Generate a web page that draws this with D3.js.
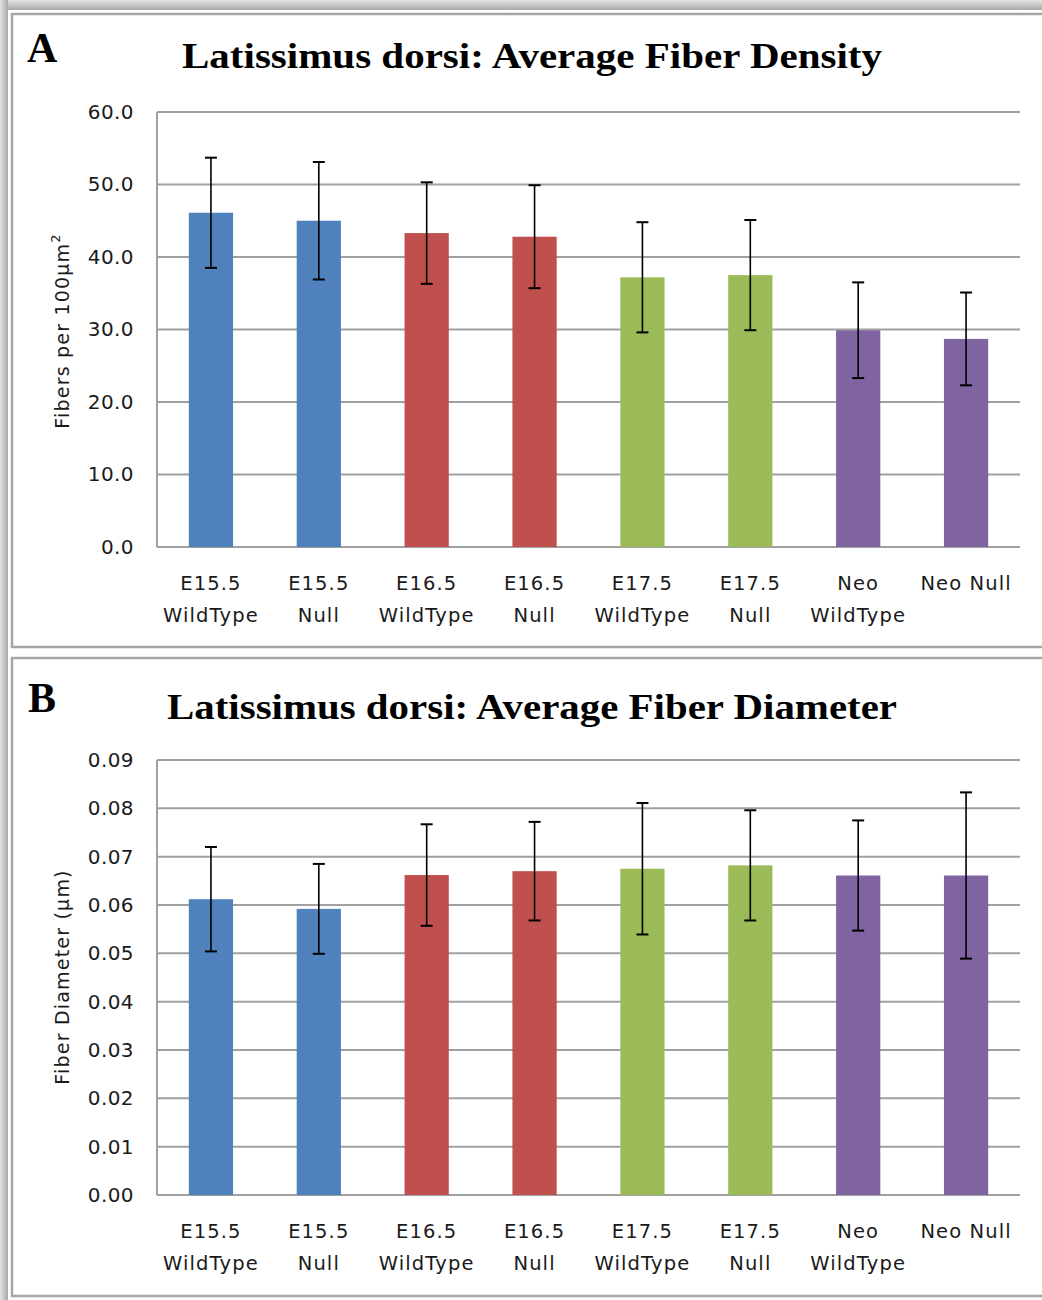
<html>
<head>
<script src="https://d3js.org/d3.v7.min.js"></script>
<style>
  body { margin: 0; background: #fff; }
</style>
</head>
<body>
<svg width="1042" height="1300"></svg>
<script>
// data
var categories = [["E15.5", "WildType"], ["E15.5", "Null"], ["E16.5", "WildType"], ["E16.5", "Null"],
                  ["E17.5", "WildType"], ["E17.5", "Null"], ["Neo", "WildType"], ["Neo Null"]];
var densityMean = [46.1, 45.0, 43.3, 42.8, 37.2, 37.5, 29.9, 28.7];
var densityErr  = [7.6, 8.1, 7.0, 7.1, 7.6, 7.6, 6.6, 6.4];
var diameterMean = [0.0612, 0.0592, 0.0662, 0.0670, 0.0675, 0.0682, 0.0661, 0.0661];
var diameterErr  = [0.0108, 0.0093, 0.0105, 0.0102, 0.0136, 0.0114, 0.0114, 0.0172];
var densityTicks = [0, 10, 20, 30, 40, 50, 60];
var diameterTicks = [0, 0.01, 0.02, 0.03, 0.04, 0.05, 0.06, 0.07, 0.08, 0.09];
var barColors = ["#4F81BD", "#4F81BD", "#C0504D", "#C0504D", "#9BBB59", "#9BBB59", "#8064A2", "#8064A2"];

var svg = d3.select("svg");

// gray frame around the figure
var defs = svg.append("defs");
var gTop = defs.append("linearGradient").attr("id", "gtop").attr("x1", 0).attr("y1", 0).attr("x2", 0).attr("y2", 1);
gTop.append("stop").attr("offset", "0%").attr("stop-color", "#e4e4e4");
gTop.append("stop").attr("offset", "100%").attr("stop-color", "#a9a9a9");
var gLeft = defs.append("linearGradient").attr("id", "gleft").attr("x1", 0).attr("y1", 0).attr("x2", 1).attr("y2", 0);
gLeft.append("stop").attr("offset", "0%").attr("stop-color", "#e4e4e4");
gLeft.append("stop").attr("offset", "100%").attr("stop-color", "#a9a9a9");
svg.append("rect").attr("x", 0).attr("y", 0).attr("width", 1042).attr("height", 10).attr("fill", "url(#gtop)");
svg.append("rect").attr("x", 0).attr("y", 0).attr("width", 8).attr("height", 1300).attr("fill", "url(#gleft)");

function panel(opt) {
  svg.append("rect")
    .attr("x", opt.box[0]).attr("y", opt.box[1])
    .attr("width", opt.box[2]).attr("height", opt.box[3])
    .attr("fill", "#fff").attr("stroke", "#a6a6a6").attr("stroke-width", 2.5);

  svg.append("text")
    .attr("x", opt.letterPos[0]).attr("y", opt.letterPos[1])
    .attr("font-family", "Liberation Serif, DejaVu Serif, serif")
    .attr("font-weight", "bold").attr("font-size", 42)
    .text(opt.letter);

  svg.append("text")
    .attr("x", opt.titlePos[0]).attr("y", opt.titlePos[1])
    .attr("font-family", "Liberation Serif, DejaVu Serif, serif")
    .attr("font-weight", "bold").attr("font-size", 36)
    .attr("textLength", opt.titleLen).attr("lengthAdjust", "spacingAndGlyphs")
    .text(opt.title);

  var m = opt.plot; // left, top, right, bottom
  var x = d3.scaleBand().domain(d3.range(categories.length)).range([m[0], m[2]]).paddingInner(0.59).paddingOuter(0.295);
  var y = d3.scaleLinear().domain([0, d3.max(opt.ticks)]).range([m[3], m[1]]);

  var g = svg.append("g");

  // gridlines
  g.selectAll(".grid").data(opt.ticks).enter().append("line")
    .attr("x1", m[0]).attr("x2", m[2])
    .attr("y1", function (d) { return y(d); }).attr("y2", function (d) { return y(d); })
    .attr("stroke", "#a0a0a0").attr("stroke-width", 2);
  g.append("line").attr("x1", m[0]).attr("x2", m[0]).attr("y1", m[1]).attr("y2", m[3])
    .attr("stroke", "#a0a0a0").attr("stroke-width", 2);

  // y axis labels
  var yAxis = d3.axisLeft(y).tickValues(opt.ticks).tickFormat(d3.format(opt.fmt)).tickSize(0).tickPadding(23);
  var ya = g.append("g").attr("transform", "translate(" + m[0] + ",0)").call(yAxis);
  ya.select(".domain").remove();
  ya.selectAll("text").attr("font-family", "DejaVu Sans, sans-serif").attr("font-size", 20)
    .attr("letter-spacing", 0.4).attr("fill", "#1a1a1a");

  // bars
  g.selectAll(".bar").data(opt.mean).enter().append("rect")
    .attr("x", function (d, i) { return x(i); })
    .attr("y", function (d) { return y(d); })
    .attr("width", x.bandwidth())
    .attr("height", function (d) { return y(0) - y(d); })
    .attr("fill", function (d, i) { return barColors[i]; });

  // error bars
  var cx = function (i) { return x(i) + x.bandwidth() / 2; };
  var eb = g.selectAll(".err").data(opt.mean).enter().append("g");
  eb.append("line")
    .attr("x1", function (d, i) { return cx(i); }).attr("x2", function (d, i) { return cx(i); })
    .attr("y1", function (d, i) { return y(d + opt.err[i]); })
    .attr("y2", function (d, i) { return y(d - opt.err[i]); })
    .attr("stroke", "#000").attr("stroke-width", 1.6);
  [1, -1].forEach(function (s) {
    eb.append("line")
      .attr("x1", function (d, i) { return cx(i) - 6; }).attr("x2", function (d, i) { return cx(i) + 6; })
      .attr("y1", function (d, i) { return y(d + s * opt.err[i]); })
      .attr("y2", function (d, i) { return y(d + s * opt.err[i]); })
      .attr("stroke", "#000").attr("stroke-width", 2);
  });

  // x category labels
  var xl = g.selectAll(".cat").data(categories).enter().append("text")
    .attr("text-anchor", "middle")
    .attr("font-family", "DejaVu Sans, sans-serif").attr("font-size", 19.5)
    .attr("letter-spacing", 1.1).attr("fill", "#1a1a1a")
    .attr("x", function (d, i) { return cx(i); })
    .attr("y", m[3] + 43);
  xl.selectAll("tspan").data(function (d) { return d; }).enter().append("tspan")
    .attr("x", function () { return d3.select(this.parentNode).attr("x"); })
    .attr("dy", function (d, i) { return i === 0 ? 0 : 32; })
    .text(function (d) { return d; });

  // y title
  svg.append("text")
    .attr("transform", "translate(" + opt.yTitlePos[0] + "," + opt.yTitlePos[1] + ") rotate(-90)")
    .attr("text-anchor", "middle")
    .attr("font-family", "DejaVu Sans, sans-serif").attr("font-size", 19)
    .attr("letter-spacing", 1.2).attr("fill", "#1a1a1a")
    .html(opt.yTitle);
}

panel({
  box: [12, 14, 1040, 633],
  letter: "A", letterPos: [27, 62],
  title: "Latissimus dorsi: Average Fiber Density", titlePos: [182, 68], titleLen: 700,
  plot: [157, 112, 1020, 547],
  ticks: densityTicks, fmt: ".1f",
  mean: densityMean, err: densityErr,
  yTitle: "Fibers per 100μm<tspan dy='-9' font-size='13'>2</tspan>", yTitlePos: [69, 331]
});

panel({
  box: [12, 658, 1040, 638],
  letter: "B", letterPos: [28, 712],
  title: "Latissimus dorsi: Average Fiber Diameter", titlePos: [167, 719], titleLen: 730,
  plot: [157, 760, 1020, 1195],
  ticks: diameterTicks, fmt: ".2f",
  mean: diameterMean, err: diameterErr,
  yTitle: "Fiber Diameter (µm)", yTitlePos: [69, 977]
});
</script>
</body>
</html>
